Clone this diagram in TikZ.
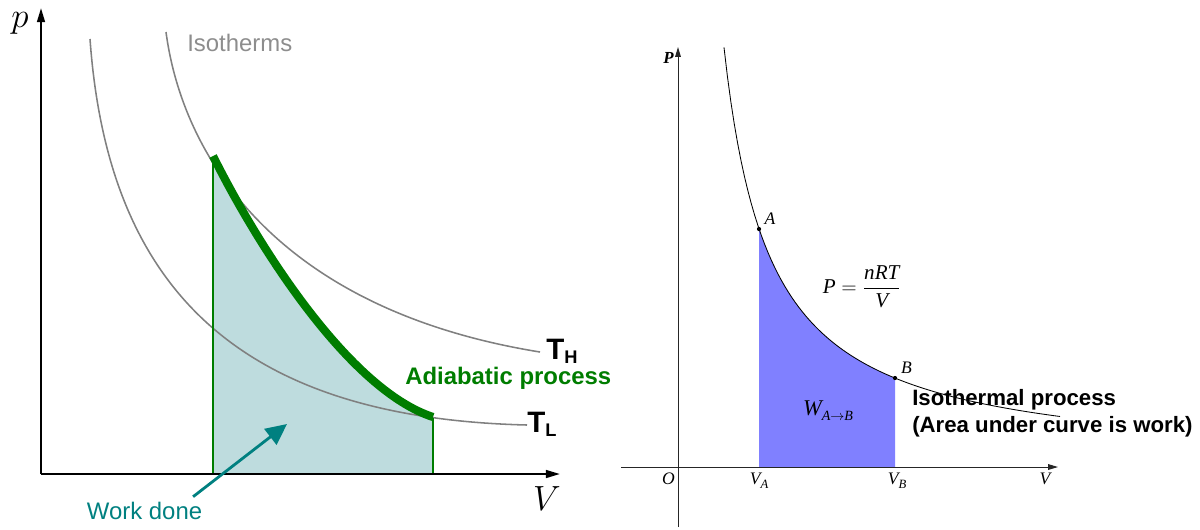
\documentclass[tikz,border=0pt]{standalone}
\usepackage{fontspec}
\setmainfont{Liberation Sans}
\newfontfamily\tms{Liberation Serif}
\usetikzlibrary{arrows.meta, positioning}
\definecolor{isogray}{RGB}{128, 128, 128}
\definecolor{adiagreen}{RGB}{0, 125, 0}
\definecolor{workfill}{RGB}{190, 220, 222}
\definecolor{workteal}{RGB}{0, 128, 128}
\definecolor{areablue}{RGB}{128, 128, 255}
\tikzset{
  isoline/.style={draw=isogray, line width=1.1pt},
  adialine/.style={draw=adiagreen, line width=5.8pt},
  edgeline/.style={draw=adiagreen, line width=1.1pt},
  bigaxis/.style={-{Triangle[length=10pt, width=5.5pt]}, line width=1.5pt},
  smallaxis/.style={-{Triangle[length=7pt, width=4pt]}, line width=0.7pt, color=black!85},
  workarr/.style={-{Triangle[length=15pt, width=14pt]}, line width=2pt, color=workteal},
  txt/.style={inner sep=0pt},
  ptdot/.style={circle, fill=black, inner sep=0pt, minimum size=3pt},
  serif/.style={inner sep=0pt, font=\tms\itshape\fontsize{12.5}{14}\selectfont}
}
\newcommand{\templabel}[1]{%
  \fontsize{21}{21}\selectfont\bfseries T\raisebox{-0.3ex}{\fontsize{13}{13}\selectfont #1}}
\newcommand{\vsub}[2]{#1\raisebox{-0.45ex}{\fontsize{9}{9}\selectfont #2}}

\begin{document}
\begin{tikzpicture}[x=0.025cm, y=-0.025cm]
  \useasboundingbox (0,0) rectangle (1200,529);

  % ── Left: adiabatic expansion ──────────────────────────────────
  \coordinate (lorigin) at (41,474);
  \coordinate (ltop)    at (41,8);
  \coordinate (lright)  at (560,474);
  \coordinate (adiatop) at (213,156);
  \coordinate (adiaend) at (433,417);

  % work area under the adiabat
  \fill[workfill] (213,474) -- (adiatop) .. controls (260,250) and (350,390) .. (adiaend)
    -- (433,474) -- cycle;

  % isotherms
  \draw[isoline] (90,39) .. controls (108,290) and (240,418) .. (527,425);
  \draw[isoline] (166,32) .. controls (183,160) and (280,310) .. (540,352);

  % adiabat and its bounds
  \draw[edgeline] (213,474) -- (213,157);
  \draw[edgeline] (433,474) -- (433,418);
  \draw[adialine] (adiatop) .. controls (260,250) and (350,390) .. (adiaend);

  % axes
  \draw[bigaxis] (lorigin) -- (ltop);
  \draw[bigaxis] (lorigin) -- (lright);
  \node[font=\fontsize{24}{24}\selectfont] (lp) at (20,23) {$p$};
  \node[font=\fontsize{23}{23}\selectfont] (lv) at (547,499) {$V$};

  % labels
  \node[txt, anchor=base west, text=isogray!90, font=\fontsize{17}{20}\selectfont]
    (isolabel) at (187,51) {Isotherms};
  \node[txt, anchor=base west] (th) at (546,359) {\templabel{H}};
  \node[txt, anchor=base west] (tl) at (527,432) {\templabel{L}};
  \node[txt, anchor=base west, text=adiagreen, font=\bfseries\fontsize{17}{20}\selectfont]
    (adia) at (405,384) {Adiabatic process};

  % work done pointer
  \node[anchor=base west, text=workteal, font=\fontsize{17}{20}\selectfont]
    (work) at (82,519) {Work done};
  \coordinate (worktip) at (287,424);
  \draw[workarr] ([xshift=-0.35cm]work.north east) -- (worktip);

  % ── Right: isothermal expansion ────────────────────────────────
  \coordinate (rbottom) at (678,527);
  \coordinate (rtop)    at (678,47);
  \coordinate (rleft)   at (621,467);
  \coordinate (rright)  at (1058,467);

  \fill[areablue] (759,467) -- plot[domain=759:895, samples=60] (\x,{467-193/((\x-678)/100)})
    -- (895,467) -- cycle;
  \draw[line width=0.6pt] plot[domain=724:1060, samples=100] (\x,{467-193/((\x-678)/100)});

  \draw[smallaxis] (rbottom) -- (rtop);
  \draw[smallaxis] (rleft) -- (rright);

  \node[ptdot] (pta) at (759,229) {};
  \node[ptdot] (ptb) at (895,378) {};
  \node[serif, above right=1.5pt and 2.5pt of pta] (la) {A};
  \node[serif, above right=2pt and 3pt of ptb] (lb) {B};

  \node[txt, anchor=base east, font=\tms\bfseries\itshape\fontsize{12}{12}\selectfont]
    (rp) at (674,63) {P};
  \node[serif, anchor=north east] (ro) at (675,473) {O};
  \node[serif, anchor=north] (rva) at (759,473) {\vsub{V}{A}};
  \node[serif, anchor=north] (rvb) at (897,473) {\vsub{V}{B}};
  \node[serif, anchor=north] (rv)  at (1045,473) {V};

  \node[font=\fontsize{15}{17}\selectfont] (law) at (862,287)
    {$\mbox{\tms\itshape P} = \displaystyle\frac{\mbox{\tms\itshape nRT}}{\mbox{\tms\itshape V}}$};
  \node[font=\tms\itshape\fontsize{16}{18}\selectfont] (wab) at (828,411)
    {W\raisebox{-0.5ex}{\fontsize{10}{10}\selectfont A$\rightarrow$B}};

  \node[txt, anchor=north west, align=left, font=\bfseries\fontsize{15.8}{19.5}\selectfont]
    (isolab) at (912,389) {Isothermal process\\(Area under curve is work)};

\end{tikzpicture}
\end{document}
